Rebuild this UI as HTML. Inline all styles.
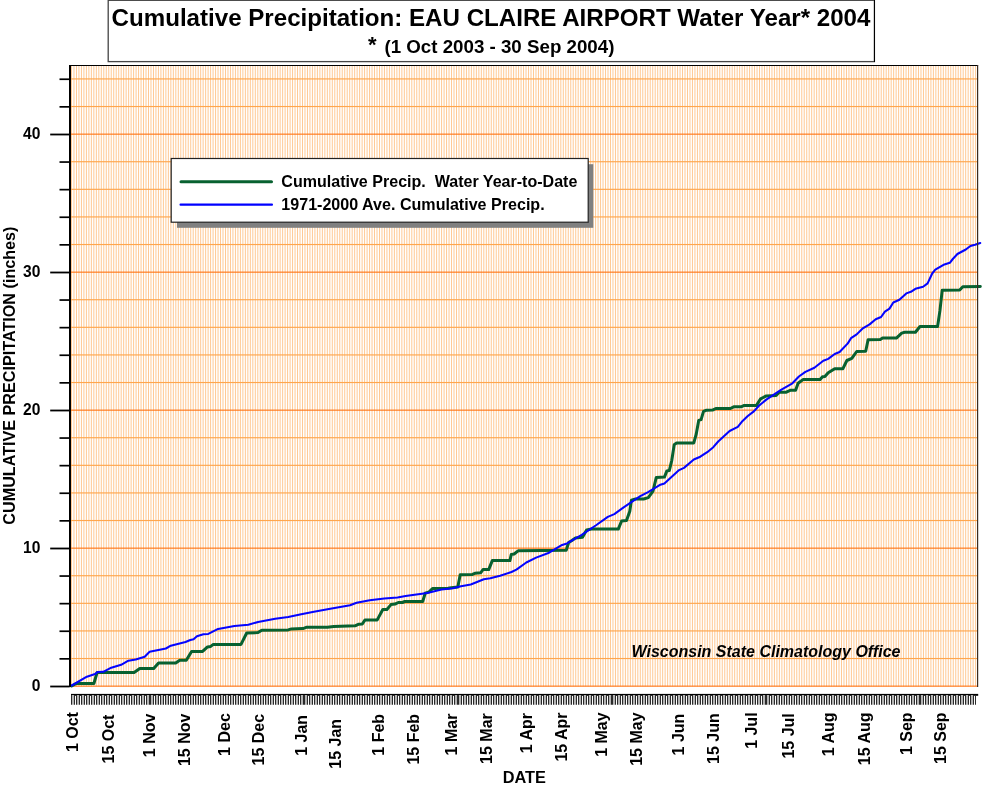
<!DOCTYPE html>
<html><head><meta charset="utf-8"><title>Cumulative Precipitation: EAU CLAIRE AIRPORT Water Year 2004</title>
<style>html,body{margin:0;padding:0;background:#fff;}body{width:982px;height:786px;overflow:hidden;}svg{display:block;will-change:transform;}text{font-family:"Liberation Sans",sans-serif;font-weight:bold;fill:#000;}</style>
</head><body>
<svg width="982" height="786" viewBox="0 0 982 786">
<rect x="0" y="0" width="982" height="786" fill="#fff"/>
<rect x="71.0" y="66.0" width="906.6" height="620.5" fill="#FFFFFF"/>
<path d="M71.50 66.0V686.5M73.98 66.0V686.5M76.47 66.0V686.5M78.95 66.0V686.5M81.44 66.0V686.5M83.92 66.0V686.5M86.40 66.0V686.5M88.89 66.0V686.5M91.37 66.0V686.5M93.85 66.0V686.5M96.34 66.0V686.5M98.82 66.0V686.5M101.31 66.0V686.5M103.79 66.0V686.5M106.27 66.0V686.5M108.76 66.0V686.5M111.24 66.0V686.5M113.73 66.0V686.5M116.21 66.0V686.5M118.69 66.0V686.5M121.18 66.0V686.5M123.66 66.0V686.5M126.14 66.0V686.5M128.63 66.0V686.5M131.11 66.0V686.5M133.60 66.0V686.5M136.08 66.0V686.5M138.56 66.0V686.5M141.05 66.0V686.5M143.53 66.0V686.5M146.02 66.0V686.5M148.50 66.0V686.5M150.98 66.0V686.5M153.47 66.0V686.5M155.95 66.0V686.5M158.43 66.0V686.5M160.92 66.0V686.5M163.40 66.0V686.5M165.89 66.0V686.5M168.37 66.0V686.5M170.85 66.0V686.5M173.34 66.0V686.5M175.82 66.0V686.5M178.30 66.0V686.5M180.79 66.0V686.5M183.27 66.0V686.5M185.76 66.0V686.5M188.24 66.0V686.5M190.72 66.0V686.5M193.21 66.0V686.5M195.69 66.0V686.5M198.18 66.0V686.5M200.66 66.0V686.5M203.14 66.0V686.5M205.63 66.0V686.5M208.11 66.0V686.5M210.59 66.0V686.5M213.08 66.0V686.5M215.56 66.0V686.5M218.05 66.0V686.5M220.53 66.0V686.5M223.01 66.0V686.5M225.50 66.0V686.5M227.98 66.0V686.5M230.47 66.0V686.5M232.95 66.0V686.5M235.43 66.0V686.5M237.92 66.0V686.5M240.40 66.0V686.5M242.88 66.0V686.5M245.37 66.0V686.5M247.85 66.0V686.5M250.34 66.0V686.5M252.82 66.0V686.5M255.30 66.0V686.5M257.79 66.0V686.5M260.27 66.0V686.5M262.76 66.0V686.5M265.24 66.0V686.5M267.72 66.0V686.5M270.21 66.0V686.5M272.69 66.0V686.5M275.17 66.0V686.5M277.66 66.0V686.5M280.14 66.0V686.5M282.63 66.0V686.5M285.11 66.0V686.5M287.59 66.0V686.5M290.08 66.0V686.5M292.56 66.0V686.5M295.05 66.0V686.5M297.53 66.0V686.5M300.01 66.0V686.5M302.50 66.0V686.5M304.98 66.0V686.5M307.46 66.0V686.5M309.95 66.0V686.5M312.43 66.0V686.5M314.92 66.0V686.5M317.40 66.0V686.5M319.88 66.0V686.5M322.37 66.0V686.5M324.85 66.0V686.5M327.34 66.0V686.5M329.82 66.0V686.5M332.30 66.0V686.5M334.79 66.0V686.5M337.27 66.0V686.5M339.75 66.0V686.5M342.24 66.0V686.5M344.72 66.0V686.5M347.21 66.0V686.5M349.69 66.0V686.5M352.17 66.0V686.5M354.66 66.0V686.5M357.14 66.0V686.5M359.62 66.0V686.5M362.11 66.0V686.5M364.59 66.0V686.5M367.08 66.0V686.5M369.56 66.0V686.5M372.04 66.0V686.5M374.53 66.0V686.5M377.01 66.0V686.5M379.50 66.0V686.5M381.98 66.0V686.5M384.46 66.0V686.5M386.95 66.0V686.5M389.43 66.0V686.5M391.91 66.0V686.5M394.40 66.0V686.5M396.88 66.0V686.5M399.37 66.0V686.5M401.85 66.0V686.5M404.33 66.0V686.5M406.82 66.0V686.5M409.30 66.0V686.5M411.79 66.0V686.5M414.27 66.0V686.5M416.75 66.0V686.5M419.24 66.0V686.5M421.72 66.0V686.5M424.20 66.0V686.5M426.69 66.0V686.5M429.17 66.0V686.5M431.66 66.0V686.5M434.14 66.0V686.5M436.62 66.0V686.5M439.11 66.0V686.5M441.59 66.0V686.5M444.08 66.0V686.5M446.56 66.0V686.5M449.04 66.0V686.5M451.53 66.0V686.5M454.01 66.0V686.5M456.49 66.0V686.5M458.98 66.0V686.5M461.46 66.0V686.5M463.95 66.0V686.5M466.43 66.0V686.5M468.91 66.0V686.5M471.40 66.0V686.5M473.88 66.0V686.5M476.37 66.0V686.5M478.85 66.0V686.5M481.33 66.0V686.5M483.82 66.0V686.5M486.30 66.0V686.5M488.78 66.0V686.5M491.27 66.0V686.5M493.75 66.0V686.5M496.24 66.0V686.5M498.72 66.0V686.5M501.20 66.0V686.5M503.69 66.0V686.5M506.17 66.0V686.5M508.66 66.0V686.5M511.14 66.0V686.5M513.62 66.0V686.5M516.11 66.0V686.5M518.59 66.0V686.5M521.07 66.0V686.5M523.56 66.0V686.5M526.04 66.0V686.5M528.53 66.0V686.5M531.01 66.0V686.5M533.49 66.0V686.5M535.98 66.0V686.5M538.46 66.0V686.5M540.94 66.0V686.5M543.43 66.0V686.5M545.91 66.0V686.5M548.40 66.0V686.5M550.88 66.0V686.5M553.36 66.0V686.5M555.85 66.0V686.5M558.33 66.0V686.5M560.82 66.0V686.5M563.30 66.0V686.5M565.78 66.0V686.5M568.27 66.0V686.5M570.75 66.0V686.5M573.23 66.0V686.5M575.72 66.0V686.5M578.20 66.0V686.5M580.69 66.0V686.5M583.17 66.0V686.5M585.65 66.0V686.5M588.14 66.0V686.5M590.62 66.0V686.5M593.11 66.0V686.5M595.59 66.0V686.5M598.07 66.0V686.5M600.56 66.0V686.5M603.04 66.0V686.5M605.52 66.0V686.5M608.01 66.0V686.5M610.49 66.0V686.5M612.98 66.0V686.5M615.46 66.0V686.5M617.94 66.0V686.5M620.43 66.0V686.5M622.91 66.0V686.5M625.40 66.0V686.5M627.88 66.0V686.5M630.36 66.0V686.5M632.85 66.0V686.5M635.33 66.0V686.5M637.81 66.0V686.5M640.30 66.0V686.5M642.78 66.0V686.5M645.27 66.0V686.5M647.75 66.0V686.5M650.23 66.0V686.5M652.72 66.0V686.5M655.20 66.0V686.5M657.69 66.0V686.5M660.17 66.0V686.5M662.65 66.0V686.5M665.14 66.0V686.5M667.62 66.0V686.5M670.10 66.0V686.5M672.59 66.0V686.5M675.07 66.0V686.5M677.56 66.0V686.5M680.04 66.0V686.5M682.52 66.0V686.5M685.01 66.0V686.5M687.49 66.0V686.5M689.98 66.0V686.5M692.46 66.0V686.5M694.94 66.0V686.5M697.43 66.0V686.5M699.91 66.0V686.5M702.39 66.0V686.5M704.88 66.0V686.5M707.36 66.0V686.5M709.85 66.0V686.5M712.33 66.0V686.5M714.81 66.0V686.5M717.30 66.0V686.5M719.78 66.0V686.5M722.26 66.0V686.5M724.75 66.0V686.5M727.23 66.0V686.5M729.72 66.0V686.5M732.20 66.0V686.5M734.68 66.0V686.5M737.17 66.0V686.5M739.65 66.0V686.5M742.14 66.0V686.5M744.62 66.0V686.5M747.10 66.0V686.5M749.59 66.0V686.5M752.07 66.0V686.5M754.55 66.0V686.5M757.04 66.0V686.5M759.52 66.0V686.5M762.01 66.0V686.5M764.49 66.0V686.5M766.97 66.0V686.5M769.46 66.0V686.5M771.94 66.0V686.5M774.43 66.0V686.5M776.91 66.0V686.5M779.39 66.0V686.5M781.88 66.0V686.5M784.36 66.0V686.5M786.84 66.0V686.5M789.33 66.0V686.5M791.81 66.0V686.5M794.30 66.0V686.5M796.78 66.0V686.5M799.26 66.0V686.5M801.75 66.0V686.5M804.23 66.0V686.5M806.72 66.0V686.5M809.20 66.0V686.5M811.68 66.0V686.5M814.17 66.0V686.5M816.65 66.0V686.5M819.13 66.0V686.5M821.62 66.0V686.5M824.10 66.0V686.5M826.59 66.0V686.5M829.07 66.0V686.5M831.55 66.0V686.5M834.04 66.0V686.5M836.52 66.0V686.5M839.01 66.0V686.5M841.49 66.0V686.5M843.97 66.0V686.5M846.46 66.0V686.5M848.94 66.0V686.5M851.42 66.0V686.5M853.91 66.0V686.5M856.39 66.0V686.5M858.88 66.0V686.5M861.36 66.0V686.5M863.84 66.0V686.5M866.33 66.0V686.5M868.81 66.0V686.5M871.30 66.0V686.5M873.78 66.0V686.5M876.26 66.0V686.5M878.75 66.0V686.5M881.23 66.0V686.5M883.71 66.0V686.5M886.20 66.0V686.5M888.68 66.0V686.5M891.17 66.0V686.5M893.65 66.0V686.5M896.13 66.0V686.5M898.62 66.0V686.5M901.10 66.0V686.5M903.58 66.0V686.5M906.07 66.0V686.5M908.55 66.0V686.5M911.04 66.0V686.5M913.52 66.0V686.5M916.00 66.0V686.5M918.49 66.0V686.5M920.97 66.0V686.5M923.46 66.0V686.5M925.94 66.0V686.5M928.42 66.0V686.5M930.91 66.0V686.5M933.39 66.0V686.5M935.87 66.0V686.5M938.36 66.0V686.5M940.84 66.0V686.5M943.33 66.0V686.5M945.81 66.0V686.5M948.29 66.0V686.5M950.78 66.0V686.5M953.26 66.0V686.5M955.75 66.0V686.5M958.23 66.0V686.5M960.71 66.0V686.5M963.20 66.0V686.5M965.68 66.0V686.5M968.16 66.0V686.5M970.65 66.0V686.5M973.13 66.0V686.5M975.62 66.0V686.5" stroke="#FFBB78" stroke-width="0.8" fill="none"/>
<rect x="71.0" y="685.60" width="906.6" height="1.1" fill="#FF7210"/>
<rect x="71.0" y="657.95" width="906.6" height="1.15" fill="#FFA64D"/>
<rect x="71.0" y="630.35" width="906.6" height="1.15" fill="#FFA64D"/>
<rect x="71.0" y="602.75" width="906.6" height="1.15" fill="#FFA64D"/>
<rect x="71.0" y="575.15" width="906.6" height="1.15" fill="#FFA64D"/>
<rect x="71.0" y="547.60" width="906.6" height="1.1" fill="#FF7210"/>
<rect x="71.0" y="519.95" width="906.6" height="1.15" fill="#FFA64D"/>
<rect x="71.0" y="492.35" width="906.6" height="1.15" fill="#FFA64D"/>
<rect x="71.0" y="464.75" width="906.6" height="1.15" fill="#FFA64D"/>
<rect x="71.0" y="437.15" width="906.6" height="1.15" fill="#FFA64D"/>
<rect x="71.0" y="409.60" width="906.6" height="1.1" fill="#FF7210"/>
<rect x="71.0" y="381.95" width="906.6" height="1.15" fill="#FFA64D"/>
<rect x="71.0" y="354.35" width="906.6" height="1.15" fill="#FFA64D"/>
<rect x="71.0" y="326.75" width="906.6" height="1.15" fill="#FFA64D"/>
<rect x="71.0" y="299.15" width="906.6" height="1.15" fill="#FFA64D"/>
<rect x="71.0" y="271.60" width="906.6" height="1.1" fill="#FF7210"/>
<rect x="71.0" y="243.95" width="906.6" height="1.15" fill="#FFA64D"/>
<rect x="71.0" y="216.35" width="906.6" height="1.15" fill="#FFA64D"/>
<rect x="71.0" y="188.75" width="906.6" height="1.15" fill="#FFA64D"/>
<rect x="71.0" y="161.15" width="906.6" height="1.15" fill="#FFA64D"/>
<rect x="71.0" y="133.60" width="906.6" height="1.1" fill="#FF7210"/>
<rect x="71.0" y="105.95" width="906.6" height="1.15" fill="#FFA64D"/>
<rect x="71.0" y="78.35" width="906.6" height="1.15" fill="#FFA64D"/>
<polyline points="71.7,686.0 76.3,683.5 93.9,683.5 97.1,672.5 134.1,672.5 139.8,668.6 153.7,668.6 158.6,663.0 175.7,663.0 179.8,660.2 186.3,660.2 191.6,651.4 202.6,651.4 207.5,646.9 210.7,646.4 213.3,644.4 241.0,644.4 246.7,633.0 258.0,632.6 261.8,630.2 288.2,629.9 291.5,628.9 302.9,628.6 306.9,627.2 327.3,627.2 333.8,626.4 355.0,625.8 358.3,624.3 362.3,624.0 364.9,620.1 377.1,620.1 382.8,609.5 386.9,609.5 391.0,604.6 395.0,604.1 398.3,602.5 402.4,602.5 404.8,601.5 422.7,601.5 425.2,593.2 429.2,591.9 432.5,588.6 448.0,588.3 451.2,587.8 457.8,587.1 460.2,574.8 472.4,574.4 474.9,573.3 480.6,572.8 483.0,569.6 488.7,569.6 492.3,560.6 509.9,560.6 511.3,554.4 514.1,554.0 518.1,550.8 566.2,550.3 568.7,542.5 571.9,540.5 575.2,538.1 582.5,537.3 586.6,529.9 591.5,529.1 618.3,529.1 621.6,521.0 626.5,520.6 629.8,511.2 631.4,500.1 635.5,499.0 643.6,499.0 648.3,497.6 653.0,491.2 656.3,477.4 664.4,477.1 666.9,470.9 669.3,470.6 671.8,460.3 674.2,444.8 676.7,442.9 693.8,442.9 696.2,434.2 698.7,420.4 701.1,419.6 703.5,411.4 706.0,410.3 712.5,410.1 715.8,408.5 730.4,408.5 733.7,406.8 741.0,406.8 744.3,405.4 756.5,405.4 760.6,398.8 766.3,395.9 776.1,395.5 779.3,392.3 785.8,392.3 790.7,390.2 795.6,390.2 798.1,383.3 803.0,379.6 820.1,379.6 822.5,376.8 824.9,376.5 828.2,372.7 834.7,368.7 842.9,368.7 846.9,360.5 851.8,358.4 856.7,351.5 865.7,351.2 868.1,339.8 880.3,339.6 882.6,338.1 896.4,338.1 901.7,333.1 904.7,332.3 915.4,332.3 920.0,326.5 937.6,326.5 939.9,310.9 942.2,290.3 959.7,290.0 962.8,286.8 980.3,286.5" fill="none" stroke="#086130" stroke-width="3.0" stroke-linejoin="round" stroke-linecap="round"/>
<polyline points="71.7,685.5 86.9,676.7 95.0,674.1 97.5,672.1 103.2,671.8 111.3,667.7 121.1,664.8 128.4,660.7 135.8,659.4 144.7,656.7 149.6,651.8 165.9,648.5 170.8,645.7 185.5,642.0 190.3,640.0 193.6,639.2 196.9,636.3 203.4,634.3 208.3,633.9 218.1,628.9 234.4,625.9 248.3,624.8 258.1,621.9 275.2,618.8 288.2,617.0 301.2,614.2 312.6,612.1 328.9,609.0 350.1,605.3 356.6,602.8 369.8,600.2 384.4,598.4 397.5,597.6 405.6,595.9 421.9,593.7 428.4,592.7 441.5,589.6 452.9,588.3 461.0,586.2 470.8,584.5 483.8,579.3 490.3,578.2 500.1,575.7 511.5,572.0 516.4,569.6 526.3,562.5 536.1,557.6 549.1,552.7 562.1,544.9 567.0,543.4 581.7,534.8 596.4,525.0 607.8,516.9 614.3,514.1 624.0,507.1 640.3,496.2 648.1,492.1 659.6,485.1 664.4,483.6 679.1,470.1 684.0,467.9 693.8,459.5 700.3,456.7 708.4,451.3 713.3,447.2 718.2,441.5 729.6,431.0 737.8,426.9 742.6,420.9 747.5,416.3 754.1,411.1 758.9,405.7 766.3,399.6 781.0,389.8 792.4,383.3 798.9,376.5 805.4,371.9 814.4,367.8 823.3,360.8 828.2,358.9 834.7,354.0 839.6,352.0 847.8,343.4 851.0,338.2 856.7,334.4 862.4,328.7 869.6,324.4 875.7,319.3 881.1,317.0 884.9,311.7 889.5,308.6 893.3,302.5 899.4,299.8 906.3,293.4 910.9,291.8 915.4,288.8 923.1,286.8 927.6,283.4 932.2,273.5 935.3,269.7 944.4,264.4 949.8,262.8 952.8,259.0 957.4,254.0 965.8,249.5 970.4,246.0 975.0,244.8 980.3,243.0" fill="none" stroke="#0404FF" stroke-width="2.05" stroke-linejoin="round" stroke-linecap="round"/>
<rect x="69" y="65.0" width="909.1" height="1" fill="#000"/>
<rect x="977.0" y="65.0" width="1.2" height="622.0" fill="#3a2c20"/>
<rect x="69" y="65.0" width="2" height="622.0" fill="#000"/>
<rect x="50.2" y="685.60" width="19.5" height="1.8" fill="#000"/>
<text x="40.4" y="690.9" font-size="15.6" text-anchor="end">0</text>
<rect x="59.5" y="658.00" width="10" height="1.7" fill="#000"/>
<rect x="59.5" y="630.40" width="10" height="1.7" fill="#000"/>
<rect x="59.5" y="602.80" width="10" height="1.7" fill="#000"/>
<rect x="59.5" y="575.20" width="10" height="1.7" fill="#000"/>
<rect x="50.2" y="547.60" width="19.5" height="1.8" fill="#000"/>
<text x="40.4" y="552.9" font-size="15.6" text-anchor="end">10</text>
<rect x="59.5" y="520.00" width="10" height="1.7" fill="#000"/>
<rect x="59.5" y="492.40" width="10" height="1.7" fill="#000"/>
<rect x="59.5" y="464.80" width="10" height="1.7" fill="#000"/>
<rect x="59.5" y="437.20" width="10" height="1.7" fill="#000"/>
<rect x="50.2" y="409.60" width="19.5" height="1.8" fill="#000"/>
<text x="40.4" y="414.9" font-size="15.6" text-anchor="end">20</text>
<rect x="59.5" y="382.00" width="10" height="1.7" fill="#000"/>
<rect x="59.5" y="354.40" width="10" height="1.7" fill="#000"/>
<rect x="59.5" y="326.80" width="10" height="1.7" fill="#000"/>
<rect x="59.5" y="299.20" width="10" height="1.7" fill="#000"/>
<rect x="50.2" y="271.60" width="19.5" height="1.8" fill="#000"/>
<text x="40.4" y="276.9" font-size="15.6" text-anchor="end">30</text>
<rect x="59.5" y="244.00" width="10" height="1.7" fill="#000"/>
<rect x="59.5" y="216.40" width="10" height="1.7" fill="#000"/>
<rect x="59.5" y="188.80" width="10" height="1.7" fill="#000"/>
<rect x="59.5" y="161.20" width="10" height="1.7" fill="#000"/>
<rect x="50.2" y="133.60" width="19.5" height="1.8" fill="#000"/>
<text x="40.4" y="138.9" font-size="15.6" text-anchor="end">40</text>
<rect x="59.5" y="106.00" width="10" height="1.7" fill="#000"/>
<rect x="59.5" y="78.40" width="10" height="1.7" fill="#000"/>
<rect x="71.0" y="693.9" width="907.2" height="1.9" fill="#000"/>
<path d="M72.00 695h2V704.7h-2zM77.00 695h2V704.7h-2zM82.00 695h2V704.7h-2zM87.00 695h2V704.7h-2zM92.00 695h2V704.7h-2zM97.00 695h2V704.7h-2zM102.00 695h2V704.7h-2zM107.00 695h2V704.7h-2zM112.00 695h2V704.7h-2zM117.00 695h2V704.7h-2zM122.00 695h2V704.7h-2zM127.00 695h2V704.7h-2zM132.00 695h2V704.7h-2zM137.00 695h2V704.7h-2zM142.00 695h2V704.7h-2zM147.00 695h2V704.7h-2zM151.00 695h2V704.7h-2zM156.00 695h2V704.7h-2zM161.00 695h2V704.7h-2zM166.00 695h2V704.7h-2zM171.00 695h2V704.7h-2zM176.00 695h2V704.7h-2zM181.00 695h2V704.7h-2zM186.00 695h2V704.7h-2zM191.00 695h2V704.7h-2zM196.00 695h2V704.7h-2zM201.00 695h2V704.7h-2zM206.00 695h2V704.7h-2zM211.00 695h2V704.7h-2zM216.00 695h2V704.7h-2zM221.00 695h2V704.7h-2zM226.00 695h2V704.7h-2zM231.00 695h2V704.7h-2zM236.00 695h2V704.7h-2zM241.00 695h2V704.7h-2zM246.00 695h2V704.7h-2zM251.00 695h2V704.7h-2zM256.00 695h2V704.7h-2zM261.00 695h2V704.7h-2zM266.00 695h2V704.7h-2zM271.00 695h2V704.7h-2zM276.00 695h2V704.7h-2zM281.00 695h2V704.7h-2zM286.00 695h2V704.7h-2zM291.00 695h2V704.7h-2zM296.00 695h2V704.7h-2zM301.00 695h2V704.7h-2zM305.00 695h2V704.7h-2zM310.00 695h2V704.7h-2zM315.00 695h2V704.7h-2zM320.00 695h2V704.7h-2zM325.00 695h2V704.7h-2zM330.00 695h2V704.7h-2zM335.00 695h2V704.7h-2zM340.00 695h2V704.7h-2zM345.00 695h2V704.7h-2zM350.00 695h2V704.7h-2zM355.00 695h2V704.7h-2zM360.00 695h2V704.7h-2zM365.00 695h2V704.7h-2zM370.00 695h2V704.7h-2zM375.00 695h2V704.7h-2zM380.00 695h2V704.7h-2zM385.00 695h2V704.7h-2zM390.00 695h2V704.7h-2zM395.00 695h2V704.7h-2zM400.00 695h2V704.7h-2zM405.00 695h2V704.7h-2zM410.00 695h2V704.7h-2zM415.00 695h2V704.7h-2zM420.00 695h2V704.7h-2zM425.00 695h2V704.7h-2zM430.00 695h2V704.7h-2zM435.00 695h2V704.7h-2zM440.00 695h2V704.7h-2zM445.00 695h2V704.7h-2zM450.00 695h2V704.7h-2zM455.00 695h2V704.7h-2zM459.00 695h2V704.7h-2zM464.00 695h2V704.7h-2zM469.00 695h2V704.7h-2zM474.00 695h2V704.7h-2zM479.00 695h2V704.7h-2zM484.00 695h2V704.7h-2zM489.00 695h2V704.7h-2zM494.00 695h2V704.7h-2zM499.00 695h2V704.7h-2zM504.00 695h2V704.7h-2zM509.00 695h2V704.7h-2zM514.00 695h2V704.7h-2zM519.00 695h2V704.7h-2zM524.00 695h2V704.7h-2zM529.00 695h2V704.7h-2zM534.00 695h2V704.7h-2zM539.00 695h2V704.7h-2zM544.00 695h2V704.7h-2zM549.00 695h2V704.7h-2zM554.00 695h2V704.7h-2zM559.00 695h2V704.7h-2zM564.00 695h2V704.7h-2zM569.00 695h2V704.7h-2zM574.00 695h2V704.7h-2zM579.00 695h2V704.7h-2zM584.00 695h2V704.7h-2zM589.00 695h2V704.7h-2zM594.00 695h2V704.7h-2zM599.00 695h2V704.7h-2zM604.00 695h2V704.7h-2zM609.00 695h2V704.7h-2zM613.00 695h2V704.7h-2zM618.00 695h2V704.7h-2zM623.00 695h2V704.7h-2zM628.00 695h2V704.7h-2zM633.00 695h2V704.7h-2zM638.00 695h2V704.7h-2zM643.00 695h2V704.7h-2zM648.00 695h2V704.7h-2zM653.00 695h2V704.7h-2zM658.00 695h2V704.7h-2zM663.00 695h2V704.7h-2zM668.00 695h2V704.7h-2zM673.00 695h2V704.7h-2zM678.00 695h2V704.7h-2zM683.00 695h2V704.7h-2zM688.00 695h2V704.7h-2zM693.00 695h2V704.7h-2zM698.00 695h2V704.7h-2zM703.00 695h2V704.7h-2zM708.00 695h2V704.7h-2zM713.00 695h2V704.7h-2zM718.00 695h2V704.7h-2zM723.00 695h2V704.7h-2zM728.00 695h2V704.7h-2zM733.00 695h2V704.7h-2zM738.00 695h2V704.7h-2zM743.00 695h2V704.7h-2zM748.00 695h2V704.7h-2zM753.00 695h2V704.7h-2zM758.00 695h2V704.7h-2zM763.00 695h2V704.7h-2zM767.00 695h2V704.7h-2zM772.00 695h2V704.7h-2zM777.00 695h2V704.7h-2zM782.00 695h2V704.7h-2zM787.00 695h2V704.7h-2zM792.00 695h2V704.7h-2zM797.00 695h2V704.7h-2zM802.00 695h2V704.7h-2zM807.00 695h2V704.7h-2zM812.00 695h2V704.7h-2zM817.00 695h2V704.7h-2zM822.00 695h2V704.7h-2zM827.00 695h2V704.7h-2zM832.00 695h2V704.7h-2zM837.00 695h2V704.7h-2zM842.00 695h2V704.7h-2zM847.00 695h2V704.7h-2zM852.00 695h2V704.7h-2zM857.00 695h2V704.7h-2zM862.00 695h2V704.7h-2zM867.00 695h2V704.7h-2zM872.00 695h2V704.7h-2zM877.00 695h2V704.7h-2zM882.00 695h2V704.7h-2zM887.00 695h2V704.7h-2zM892.00 695h2V704.7h-2zM897.00 695h2V704.7h-2zM902.00 695h2V704.7h-2zM907.00 695h2V704.7h-2zM912.00 695h2V704.7h-2zM917.00 695h2V704.7h-2zM921.00 695h2V704.7h-2zM926.00 695h2V704.7h-2zM931.00 695h2V704.7h-2zM936.00 695h2V704.7h-2zM941.00 695h2V704.7h-2zM946.00 695h2V704.7h-2zM951.00 695h2V704.7h-2zM956.00 695h2V704.7h-2zM961.00 695h2V704.7h-2zM966.00 695h2V704.7h-2zM971.00 695h2V704.7h-2z" fill="#b4b4b4"/>
<path d="M71.00 695h1V704.7h-1zM74.00 695h1V704.7h-1zM76.00 695h1V704.7h-1zM79.00 695h1V704.7h-1zM81.00 695h1V704.7h-1zM84.00 695h1V704.7h-1zM86.00 695h1V704.7h-1zM89.00 695h1V704.7h-1zM91.00 695h1V704.7h-1zM94.00 695h1V704.7h-1zM96.00 695h1V704.7h-1zM99.00 695h1V704.7h-1zM101.00 695h1V704.7h-1zM104.00 695h1V704.7h-1zM106.00 695h1V704.7h-1zM109.00 695h1V704.7h-1zM111.00 695h1V704.7h-1zM114.00 695h1V704.7h-1zM116.00 695h1V704.7h-1zM119.00 695h1V704.7h-1zM121.00 695h1V704.7h-1zM124.00 695h1V704.7h-1zM126.00 695h1V704.7h-1zM129.00 695h1V704.7h-1zM131.00 695h1V704.7h-1zM134.00 695h1V704.7h-1zM136.00 695h1V704.7h-1zM139.00 695h1V704.7h-1zM141.00 695h1V704.7h-1zM144.00 695h1V704.7h-1zM146.00 695h1V704.7h-1zM149.00 695h1V704.7h-1zM150.00 695h1V704.7h-1zM153.00 695h1V704.7h-1zM155.00 695h1V704.7h-1zM158.00 695h1V704.7h-1zM160.00 695h1V704.7h-1zM163.00 695h1V704.7h-1zM165.00 695h1V704.7h-1zM168.00 695h1V704.7h-1zM170.00 695h1V704.7h-1zM173.00 695h1V704.7h-1zM175.00 695h1V704.7h-1zM178.00 695h1V704.7h-1zM180.00 695h1V704.7h-1zM183.00 695h1V704.7h-1zM185.00 695h1V704.7h-1zM188.00 695h1V704.7h-1zM190.00 695h1V704.7h-1zM193.00 695h1V704.7h-1zM195.00 695h1V704.7h-1zM198.00 695h1V704.7h-1zM200.00 695h1V704.7h-1zM203.00 695h1V704.7h-1zM205.00 695h1V704.7h-1zM208.00 695h1V704.7h-1zM210.00 695h1V704.7h-1zM213.00 695h1V704.7h-1zM215.00 695h1V704.7h-1zM218.00 695h1V704.7h-1zM220.00 695h1V704.7h-1zM223.00 695h1V704.7h-1zM225.00 695h1V704.7h-1zM228.00 695h1V704.7h-1zM230.00 695h1V704.7h-1zM233.00 695h1V704.7h-1zM235.00 695h1V704.7h-1zM238.00 695h1V704.7h-1zM240.00 695h1V704.7h-1zM243.00 695h1V704.7h-1zM245.00 695h1V704.7h-1zM248.00 695h1V704.7h-1zM250.00 695h1V704.7h-1zM253.00 695h1V704.7h-1zM255.00 695h1V704.7h-1zM258.00 695h1V704.7h-1zM260.00 695h1V704.7h-1zM263.00 695h1V704.7h-1zM265.00 695h1V704.7h-1zM268.00 695h1V704.7h-1zM270.00 695h1V704.7h-1zM273.00 695h1V704.7h-1zM275.00 695h1V704.7h-1zM278.00 695h1V704.7h-1zM280.00 695h1V704.7h-1zM283.00 695h1V704.7h-1zM285.00 695h1V704.7h-1zM288.00 695h1V704.7h-1zM290.00 695h1V704.7h-1zM293.00 695h1V704.7h-1zM295.00 695h1V704.7h-1zM298.00 695h1V704.7h-1zM300.00 695h1V704.7h-1zM303.00 695h1V704.7h-1zM304.00 695h1V704.7h-1zM307.00 695h1V704.7h-1zM309.00 695h1V704.7h-1zM312.00 695h1V704.7h-1zM314.00 695h1V704.7h-1zM317.00 695h1V704.7h-1zM319.00 695h1V704.7h-1zM322.00 695h1V704.7h-1zM324.00 695h1V704.7h-1zM327.00 695h1V704.7h-1zM329.00 695h1V704.7h-1zM332.00 695h1V704.7h-1zM334.00 695h1V704.7h-1zM337.00 695h1V704.7h-1zM339.00 695h1V704.7h-1zM342.00 695h1V704.7h-1zM344.00 695h1V704.7h-1zM347.00 695h1V704.7h-1zM349.00 695h1V704.7h-1zM352.00 695h1V704.7h-1zM354.00 695h1V704.7h-1zM357.00 695h1V704.7h-1zM359.00 695h1V704.7h-1zM362.00 695h1V704.7h-1zM364.00 695h1V704.7h-1zM367.00 695h1V704.7h-1zM369.00 695h1V704.7h-1zM372.00 695h1V704.7h-1zM374.00 695h1V704.7h-1zM377.00 695h1V704.7h-1zM379.00 695h1V704.7h-1zM382.00 695h1V704.7h-1zM384.00 695h1V704.7h-1zM387.00 695h1V704.7h-1zM389.00 695h1V704.7h-1zM392.00 695h1V704.7h-1zM394.00 695h1V704.7h-1zM397.00 695h1V704.7h-1zM399.00 695h1V704.7h-1zM402.00 695h1V704.7h-1zM404.00 695h1V704.7h-1zM407.00 695h1V704.7h-1zM409.00 695h1V704.7h-1zM412.00 695h1V704.7h-1zM414.00 695h1V704.7h-1zM417.00 695h1V704.7h-1zM419.00 695h1V704.7h-1zM422.00 695h1V704.7h-1zM424.00 695h1V704.7h-1zM427.00 695h1V704.7h-1zM429.00 695h1V704.7h-1zM432.00 695h1V704.7h-1zM434.00 695h1V704.7h-1zM437.00 695h1V704.7h-1zM439.00 695h1V704.7h-1zM442.00 695h1V704.7h-1zM444.00 695h1V704.7h-1zM447.00 695h1V704.7h-1zM449.00 695h1V704.7h-1zM452.00 695h1V704.7h-1zM454.00 695h1V704.7h-1zM457.00 695h1V704.7h-1zM458.00 695h1V704.7h-1zM461.00 695h1V704.7h-1zM463.00 695h1V704.7h-1zM466.00 695h1V704.7h-1zM468.00 695h1V704.7h-1zM471.00 695h1V704.7h-1zM473.00 695h1V704.7h-1zM476.00 695h1V704.7h-1zM478.00 695h1V704.7h-1zM481.00 695h1V704.7h-1zM483.00 695h1V704.7h-1zM486.00 695h1V704.7h-1zM488.00 695h1V704.7h-1zM491.00 695h1V704.7h-1zM493.00 695h1V704.7h-1zM496.00 695h1V704.7h-1zM498.00 695h1V704.7h-1zM501.00 695h1V704.7h-1zM503.00 695h1V704.7h-1zM506.00 695h1V704.7h-1zM508.00 695h1V704.7h-1zM511.00 695h1V704.7h-1zM513.00 695h1V704.7h-1zM516.00 695h1V704.7h-1zM518.00 695h1V704.7h-1zM521.00 695h1V704.7h-1zM523.00 695h1V704.7h-1zM526.00 695h1V704.7h-1zM528.00 695h1V704.7h-1zM531.00 695h1V704.7h-1zM533.00 695h1V704.7h-1zM536.00 695h1V704.7h-1zM538.00 695h1V704.7h-1zM541.00 695h1V704.7h-1zM543.00 695h1V704.7h-1zM546.00 695h1V704.7h-1zM548.00 695h1V704.7h-1zM551.00 695h1V704.7h-1zM553.00 695h1V704.7h-1zM556.00 695h1V704.7h-1zM558.00 695h1V704.7h-1zM561.00 695h1V704.7h-1zM563.00 695h1V704.7h-1zM566.00 695h1V704.7h-1zM568.00 695h1V704.7h-1zM571.00 695h1V704.7h-1zM573.00 695h1V704.7h-1zM576.00 695h1V704.7h-1zM578.00 695h1V704.7h-1zM581.00 695h1V704.7h-1zM583.00 695h1V704.7h-1zM586.00 695h1V704.7h-1zM588.00 695h1V704.7h-1zM591.00 695h1V704.7h-1zM593.00 695h1V704.7h-1zM596.00 695h1V704.7h-1zM598.00 695h1V704.7h-1zM601.00 695h1V704.7h-1zM603.00 695h1V704.7h-1zM606.00 695h1V704.7h-1zM608.00 695h1V704.7h-1zM611.00 695h1V704.7h-1zM612.00 695h1V704.7h-1zM615.00 695h1V704.7h-1zM617.00 695h1V704.7h-1zM620.00 695h1V704.7h-1zM622.00 695h1V704.7h-1zM625.00 695h1V704.7h-1zM627.00 695h1V704.7h-1zM630.00 695h1V704.7h-1zM632.00 695h1V704.7h-1zM635.00 695h1V704.7h-1zM637.00 695h1V704.7h-1zM640.00 695h1V704.7h-1zM642.00 695h1V704.7h-1zM645.00 695h1V704.7h-1zM647.00 695h1V704.7h-1zM650.00 695h1V704.7h-1zM652.00 695h1V704.7h-1zM655.00 695h1V704.7h-1zM657.00 695h1V704.7h-1zM660.00 695h1V704.7h-1zM662.00 695h1V704.7h-1zM665.00 695h1V704.7h-1zM667.00 695h1V704.7h-1zM670.00 695h1V704.7h-1zM672.00 695h1V704.7h-1zM675.00 695h1V704.7h-1zM677.00 695h1V704.7h-1zM680.00 695h1V704.7h-1zM682.00 695h1V704.7h-1zM685.00 695h1V704.7h-1zM687.00 695h1V704.7h-1zM690.00 695h1V704.7h-1zM692.00 695h1V704.7h-1zM695.00 695h1V704.7h-1zM697.00 695h1V704.7h-1zM700.00 695h1V704.7h-1zM702.00 695h1V704.7h-1zM705.00 695h1V704.7h-1zM707.00 695h1V704.7h-1zM710.00 695h1V704.7h-1zM712.00 695h1V704.7h-1zM715.00 695h1V704.7h-1zM717.00 695h1V704.7h-1zM720.00 695h1V704.7h-1zM722.00 695h1V704.7h-1zM725.00 695h1V704.7h-1zM727.00 695h1V704.7h-1zM730.00 695h1V704.7h-1zM732.00 695h1V704.7h-1zM735.00 695h1V704.7h-1zM737.00 695h1V704.7h-1zM740.00 695h1V704.7h-1zM742.00 695h1V704.7h-1zM745.00 695h1V704.7h-1zM747.00 695h1V704.7h-1zM750.00 695h1V704.7h-1zM752.00 695h1V704.7h-1zM755.00 695h1V704.7h-1zM757.00 695h1V704.7h-1zM760.00 695h1V704.7h-1zM762.00 695h1V704.7h-1zM765.00 695h1V704.7h-1zM766.00 695h1V704.7h-1zM769.00 695h1V704.7h-1zM771.00 695h1V704.7h-1zM774.00 695h1V704.7h-1zM776.00 695h1V704.7h-1zM779.00 695h1V704.7h-1zM781.00 695h1V704.7h-1zM784.00 695h1V704.7h-1zM786.00 695h1V704.7h-1zM789.00 695h1V704.7h-1zM791.00 695h1V704.7h-1zM794.00 695h1V704.7h-1zM796.00 695h1V704.7h-1zM799.00 695h1V704.7h-1zM801.00 695h1V704.7h-1zM804.00 695h1V704.7h-1zM806.00 695h1V704.7h-1zM809.00 695h1V704.7h-1zM811.00 695h1V704.7h-1zM814.00 695h1V704.7h-1zM816.00 695h1V704.7h-1zM819.00 695h1V704.7h-1zM821.00 695h1V704.7h-1zM824.00 695h1V704.7h-1zM826.00 695h1V704.7h-1zM829.00 695h1V704.7h-1zM831.00 695h1V704.7h-1zM834.00 695h1V704.7h-1zM836.00 695h1V704.7h-1zM839.00 695h1V704.7h-1zM841.00 695h1V704.7h-1zM844.00 695h1V704.7h-1zM846.00 695h1V704.7h-1zM849.00 695h1V704.7h-1zM851.00 695h1V704.7h-1zM854.00 695h1V704.7h-1zM856.00 695h1V704.7h-1zM859.00 695h1V704.7h-1zM861.00 695h1V704.7h-1zM864.00 695h1V704.7h-1zM866.00 695h1V704.7h-1zM869.00 695h1V704.7h-1zM871.00 695h1V704.7h-1zM874.00 695h1V704.7h-1zM876.00 695h1V704.7h-1zM879.00 695h1V704.7h-1zM881.00 695h1V704.7h-1zM884.00 695h1V704.7h-1zM886.00 695h1V704.7h-1zM889.00 695h1V704.7h-1zM891.00 695h1V704.7h-1zM894.00 695h1V704.7h-1zM896.00 695h1V704.7h-1zM899.00 695h1V704.7h-1zM901.00 695h1V704.7h-1zM904.00 695h1V704.7h-1zM906.00 695h1V704.7h-1zM909.00 695h1V704.7h-1zM911.00 695h1V704.7h-1zM914.00 695h1V704.7h-1zM916.00 695h1V704.7h-1zM919.00 695h1V704.7h-1zM920.00 695h1V704.7h-1zM923.00 695h1V704.7h-1zM925.00 695h1V704.7h-1zM928.00 695h1V704.7h-1zM930.00 695h1V704.7h-1zM933.00 695h1V704.7h-1zM935.00 695h1V704.7h-1zM938.00 695h1V704.7h-1zM940.00 695h1V704.7h-1zM943.00 695h1V704.7h-1zM945.00 695h1V704.7h-1zM948.00 695h1V704.7h-1zM950.00 695h1V704.7h-1zM953.00 695h1V704.7h-1zM955.00 695h1V704.7h-1zM958.00 695h1V704.7h-1zM960.00 695h1V704.7h-1zM963.00 695h1V704.7h-1zM965.00 695h1V704.7h-1zM968.00 695h1V704.7h-1zM970.00 695h1V704.7h-1zM973.00 695h1V704.7h-1zM975.00 695h1V704.7h-1z" fill="#2a2a2a"/>
<text transform="translate(77.9,712.1) rotate(-90)" font-size="16" text-anchor="end">1 Oct</text>
<text transform="translate(113.6,714.6) rotate(-90)" font-size="16" text-anchor="end">15 Oct</text>
<text transform="translate(154.9,713.6) rotate(-90)" font-size="16" text-anchor="end">1 Nov</text>
<text transform="translate(189.7,713.6) rotate(-90)" font-size="16" text-anchor="end">15 Nov</text>
<text transform="translate(229.7,713.2) rotate(-90)" font-size="16" text-anchor="end">1 Dec</text>
<text transform="translate(263.9,713.9) rotate(-90)" font-size="16" text-anchor="end">15 Dec</text>
<text transform="translate(307.1,714.9) rotate(-90)" font-size="16" text-anchor="end">1 Jan</text>
<text transform="translate(340.9,718.9) rotate(-90)" font-size="16" text-anchor="end">15 Jan</text>
<text transform="translate(384.2,713.9) rotate(-90)" font-size="16" text-anchor="end">1 Feb</text>
<text transform="translate(419.3,713.9) rotate(-90)" font-size="16" text-anchor="end">15 Feb</text>
<text transform="translate(456.6,713.6) rotate(-90)" font-size="16" text-anchor="end">1 Mar</text>
<text transform="translate(491.6,713.2) rotate(-90)" font-size="16" text-anchor="end">15 Mar</text>
<text transform="translate(531.8,712.9) rotate(-90)" font-size="16" text-anchor="end">1 Apr</text>
<text transform="translate(567.2,712.4) rotate(-90)" font-size="16" text-anchor="end">15 Apr</text>
<text transform="translate(606.7,712.4) rotate(-90)" font-size="16" text-anchor="end">1 May</text>
<text transform="translate(641.6,712.4) rotate(-90)" font-size="16" text-anchor="end">15 May</text>
<text transform="translate(684.2,713.6) rotate(-90)" font-size="16" text-anchor="end">1 Jun</text>
<text transform="translate(719.3,713.2) rotate(-90)" font-size="16" text-anchor="end">15 Jun</text>
<text transform="translate(757.4,712.4) rotate(-90)" font-size="16" text-anchor="end">1 Jul</text>
<text transform="translate(793.7,713.2) rotate(-90)" font-size="16" text-anchor="end">15 Jul</text>
<text transform="translate(834.4,712.4) rotate(-90)" font-size="16" text-anchor="end">1 Aug</text>
<text transform="translate(869.6,712.4) rotate(-90)" font-size="16" text-anchor="end">15 Aug</text>
<text transform="translate(912.4,712.4) rotate(-90)" font-size="16" text-anchor="end">1 Sep</text>
<text transform="translate(946.3,712.4) rotate(-90)" font-size="16" text-anchor="end">15 Sep</text>
<text transform="translate(524.3,782.6) scale(1.02,1)" font-size="16" text-anchor="middle">DATE</text>
<text transform="translate(14.7,375.6) rotate(-90) scale(1.011,1)" font-size="16" text-anchor="middle">CUMULATIVE PRECIPITATION (inches)</text>
<text x="631.5" y="656.8" font-size="16" font-style="italic">Wisconsin State Climatology Office</text>
<rect x="108.2" y="0.3" width="766.2" height="61.3" fill="#fff" stroke="#444" stroke-width="1.3"/>
<rect x="874" y="0" width="1" height="62" fill="#000"/>
<text transform="translate(491.0,25.8) scale(1.0053,1)" font-size="24" text-anchor="middle">Cumulative Precipitation: EAU CLAIRE AIRPORT Water Year* 2004</text>
<text x="367.9" y="52.2" font-size="22">*</text>
<text transform="translate(384.4,52.6) scale(1.041,1)" font-size="18">(1 Oct 2003 - 30 Sep 2004)</text>
<rect x="177" y="164.2" width="416.3" height="63.6" fill="#808080"/>
<rect x="171.2" y="158.5" width="417.0" height="63.7" fill="#fff" stroke="#222" stroke-width="1.2"/>
<rect x="179.5" y="180.2" width="93.5" height="3" rx="1.5" fill="#086130"/>
<rect x="179.5" y="203.4" width="93.5" height="2.3" rx="1" fill="#0000FF"/>
<text transform="translate(281.3,186.7) scale(1.004,1)" font-size="16" xml:space="preserve">Cumulative Precip.  Water Year-to-Date</text>
<text transform="translate(281.3,209.7) scale(1.006,1)" font-size="16">1971-2000 Ave. Cumulative Precip.</text>
</svg>
</body></html>
